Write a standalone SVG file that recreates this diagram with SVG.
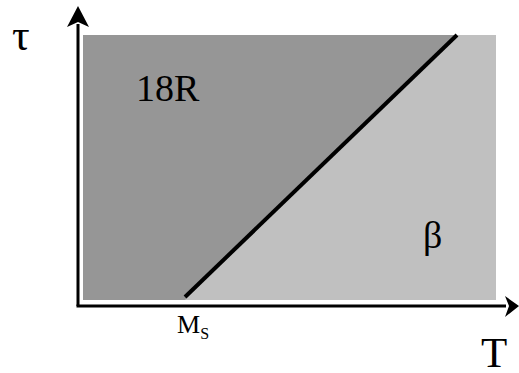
<svg xmlns="http://www.w3.org/2000/svg" width="519" height="373" viewBox="0 0 519 373">
<style>
text{font-family:"Liberation Serif","Times New Roman",serif;fill:#000}
.ax{stroke:#000;stroke-width:3;fill:none}
</style>
<rect width="519" height="373" fill="#fff"/>
<g id="region-beta"><rect x="83" y="35" width="413" height="265" fill="#c0c0c0"/></g>
<g id="region-18R"><polygon points="83,35 457,35 185,300 83,300" fill="#969696"/></g>
<g id="connectors">
<line class="ax" x1="78" y1="24" x2="78" y2="306"/>
<line class="ax" x1="76.5" y1="306" x2="506" y2="306"/>
<polygon points="78,6 67,27 78,22 89,27" fill="#000"/>
<polygon points="519,306 505,296 509,306 505,317" fill="#000"/>
<line x1="185" y1="297" x2="457" y2="35" stroke="#000" stroke-width="4"/>
</g>
<g id="labels">
<text x="12" y="50" font-size="44">τ</text>
<text x="136" y="101" font-size="38">18R</text>
<text x="423" y="248" font-size="38">β</text>
<text x="177" y="333" font-size="26">M<tspan font-size="16" dy="6">S</tspan></text>
<text x="481" y="367" font-size="43">T</text>
</g>
</svg>
